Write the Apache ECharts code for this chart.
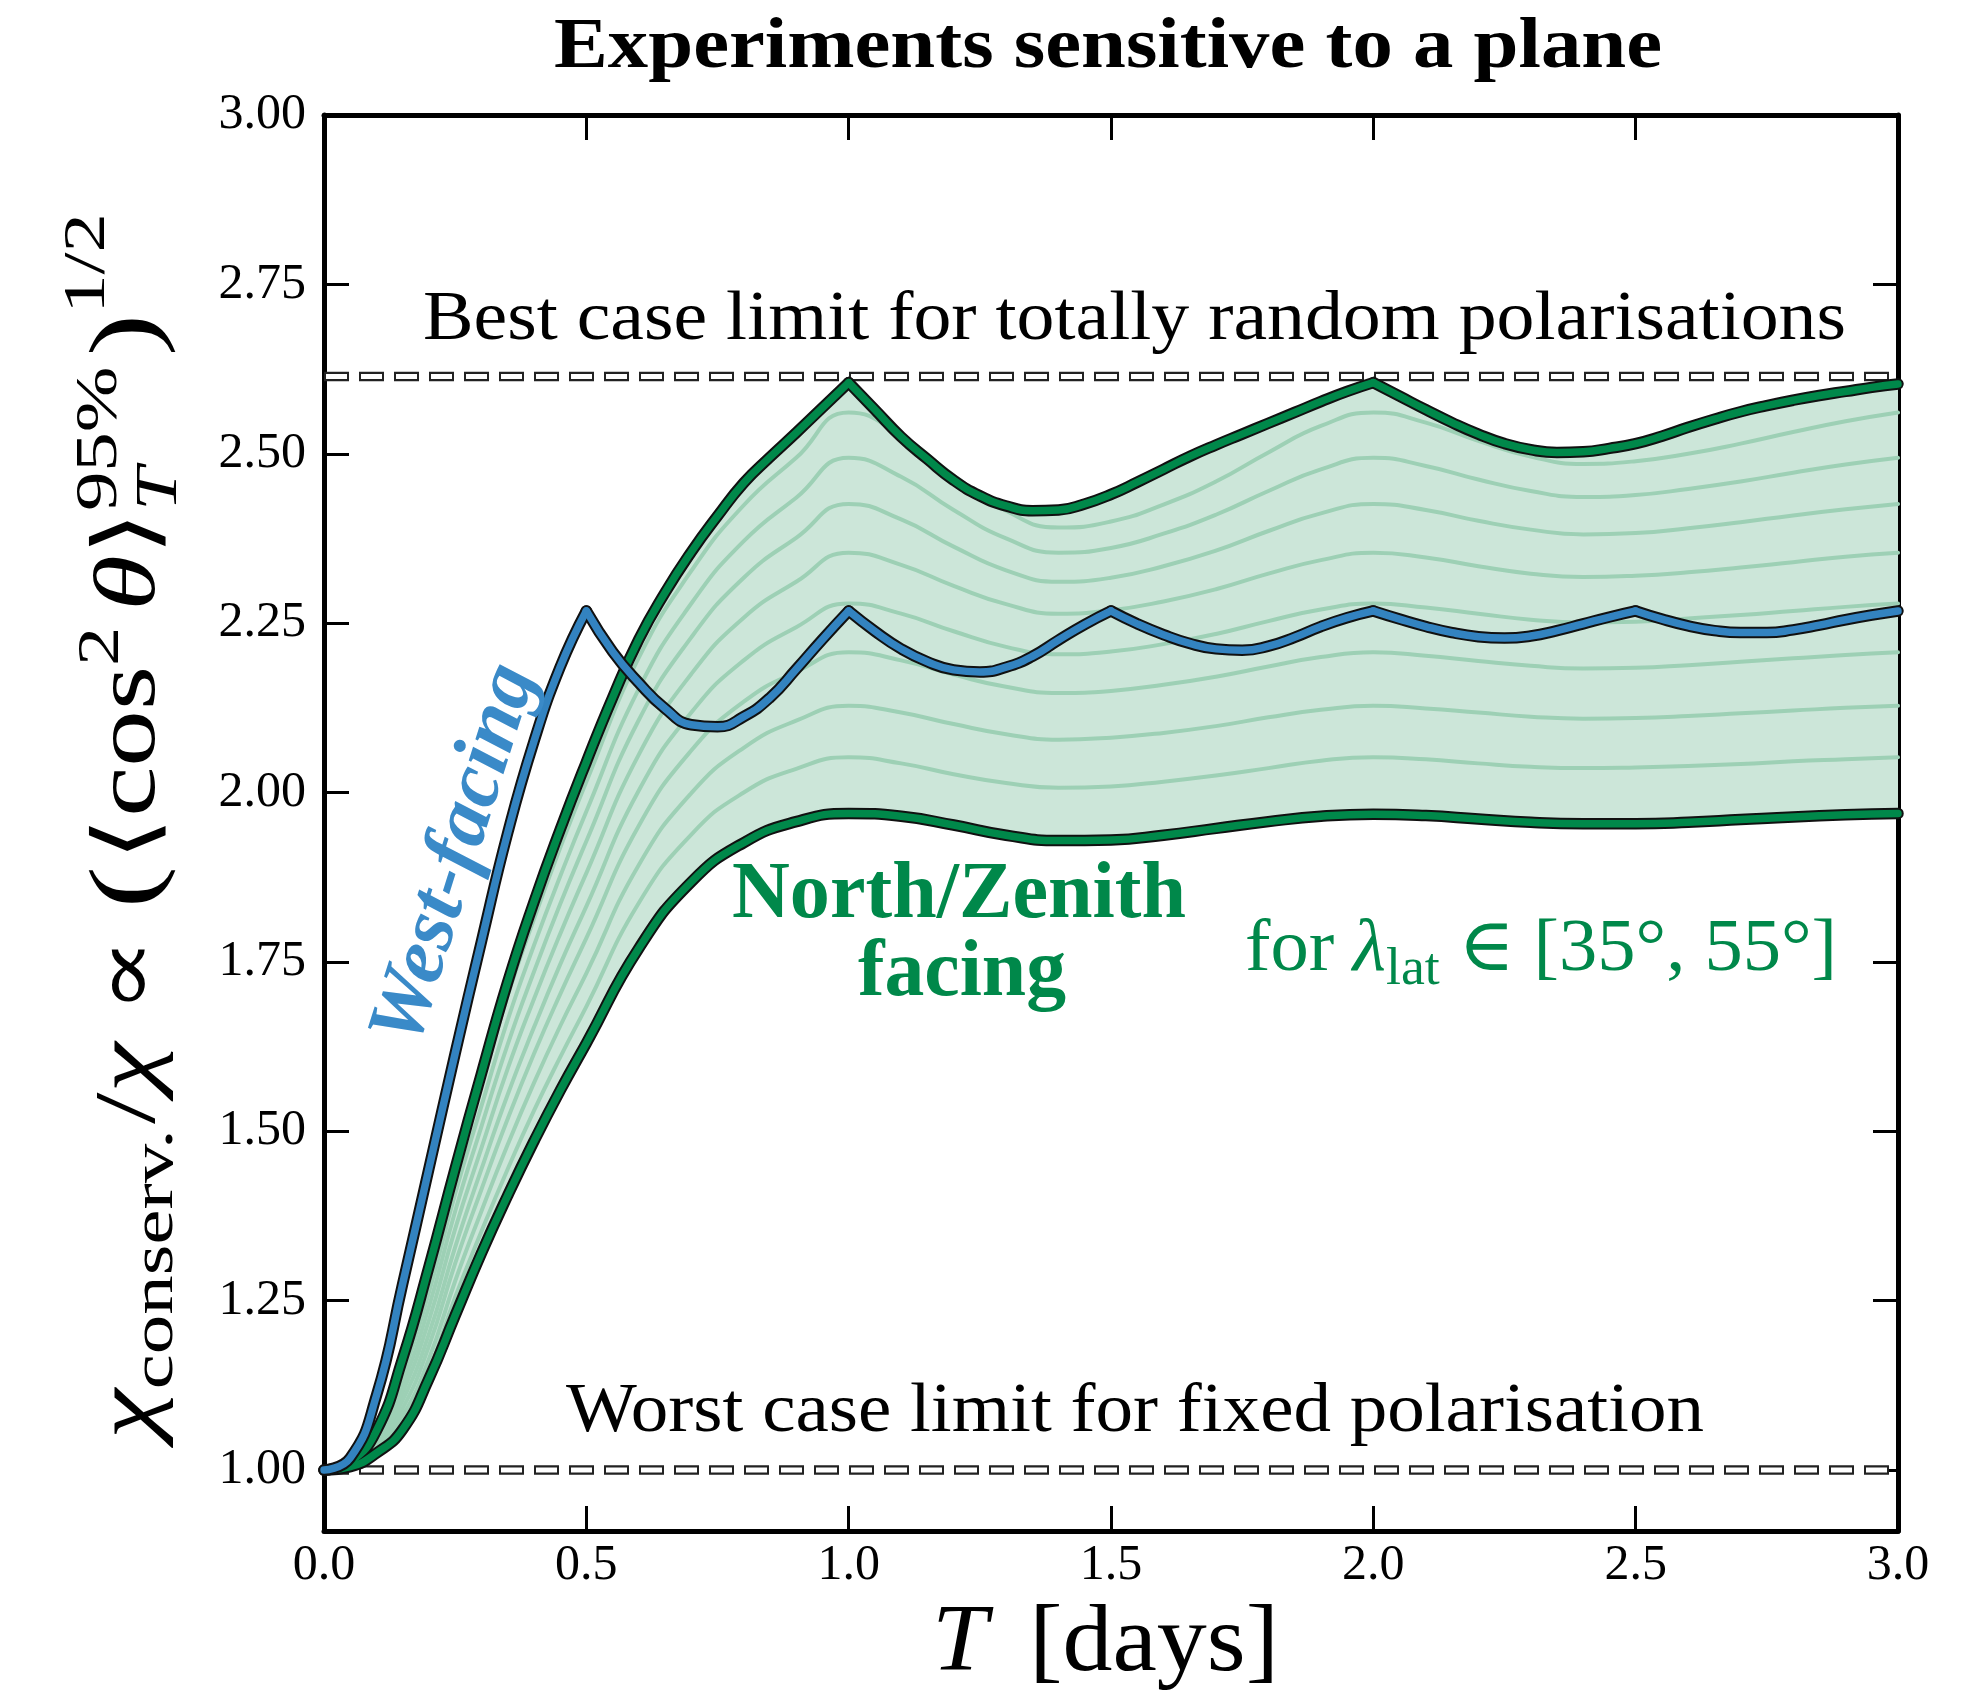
<!DOCTYPE html>
<html><head><meta charset="utf-8">
<script src="https://cdn.jsdelivr.net/npm/echarts@6.0.0/dist/echarts.min.js"></script>
<style>html,body{margin:0;padding:0;background:#fff}#chart{width:1962px;height:1699px}</style>
</head><body><div id="chart"></div>
<script>
// ---------------- DATA ----------------
const T = [0,0.05,0.1,0.15,0.2,0.25,0.3,0.35,0.4,0.45,0.5,0.6,0.7,0.8,0.9,1.0,1.1,1.2,1.3,1.4,1.5,1.6,1.7,1.8,1.9,2.0,2.1,2.2,2.3,2.4,2.5,2.6,2.7,2.8,2.9,3.0];
const TB = [0,0.05,0.1,0.15,0.2,0.25,0.3,0.35,0.4,0.45,0.5,0.55,0.6,0.65,0.7,0.75,0.8,0.85,0.9,0.95,1.0,1.05,1.1,1.15,1.2,1.25,1.3,1.35,1.4,1.45,1.5,1.55,1.6,1.65,1.7,1.75,1.8,1.85,1.9,1.95,2.0,2.05,2.1,2.15,2.2,2.25,2.3,2.35,2.4,2.45,2.5,2.55,2.6,2.65,2.7,2.75,2.8,2.85,2.9,2.95,3.0];
// outer (max-latitude) North/Zenith curve, sampled on TB
const northUpper = [1.000,1.012,1.058,1.165,1.300,1.445,1.585,1.720,1.838,1.945,2.045,2.140,2.226,2.295,2.355,2.408,2.457,2.495,2.531,2.568,2.605,2.565,2.525,2.492,2.461,2.438,2.423,2.416,2.417,2.426,2.440,2.458,2.477,2.496,2.513,2.529,2.545,2.561,2.577,2.592,2.605,2.585,2.565,2.546,2.529,2.515,2.506,2.502,2.503,2.508,2.515,2.526,2.539,2.551,2.562,2.571,2.579,2.586,2.592,2.598,2.603];
// inner curve (min-latitude) on T
const northLower = [1.000,1.005,1.025,1.060,1.135,1.228,1.320,1.405,1.485,1.560,1.630,1.770,1.868,1.926,1.957,1.969,1.965,1.952,1.937,1.929,1.930,1.937,1.947,1.957,1.965,1.968,1.966,1.961,1.956,1.954,1.954,1.956,1.960,1.964,1.967,1.969];
const lat1 = [1.000,1.011,1.054,1.154,1.283,1.434,1.568,1.700,1.813,1.918,2.016,2.199,2.327,2.424,2.494,2.561,2.527,2.468,2.416,2.391,2.400,2.425,2.459,2.502,2.541,2.561,2.546,2.519,2.496,2.485,2.489,2.500,2.515,2.532,2.548,2.561];
const lat2 = [1.000,1.010,1.050,1.140,1.262,1.408,1.537,1.664,1.774,1.876,1.972,2.153,2.279,2.371,2.435,2.494,2.466,2.417,2.375,2.354,2.361,2.382,2.410,2.445,2.477,2.494,2.482,2.462,2.445,2.436,2.439,2.448,2.459,2.472,2.484,2.494];
const lat3 = [1.000,1.010,1.047,1.127,1.241,1.382,1.507,1.628,1.735,1.835,1.928,2.107,2.229,2.317,2.376,2.426,2.403,2.363,2.328,2.311,2.317,2.334,2.357,2.386,2.412,2.426,2.417,2.401,2.388,2.381,2.383,2.390,2.399,2.409,2.418,2.426];
const lat4 = [1.000,1.009,1.043,1.115,1.221,1.356,1.475,1.592,1.695,1.791,1.881,2.056,2.175,2.258,2.311,2.354,2.336,2.305,2.278,2.264,2.269,2.282,2.300,2.323,2.343,2.354,2.347,2.334,2.323,2.318,2.320,2.325,2.332,2.340,2.348,2.354];
const lat5 = [1.000,1.008,1.039,1.103,1.201,1.329,1.444,1.554,1.653,1.746,1.832,2.003,2.118,2.195,2.244,2.279,2.264,2.238,2.215,2.204,2.208,2.219,2.234,2.253,2.270,2.279,2.273,2.264,2.255,2.251,2.252,2.257,2.262,2.268,2.274,2.279];
const lat6 = [1.000,1.007,1.035,1.091,1.183,1.305,1.414,1.518,1.614,1.702,1.785,1.951,2.062,2.134,2.178,2.207,2.195,2.174,2.156,2.147,2.150,2.159,2.171,2.186,2.200,2.207,2.202,2.194,2.187,2.183,2.184,2.188,2.193,2.198,2.203,2.207];
const lat7 = [1.000,1.006,1.032,1.080,1.164,1.279,1.382,1.480,1.571,1.655,1.733,1.893,1.999,2.066,2.106,2.128,2.118,2.101,2.086,2.078,2.081,2.088,2.098,2.111,2.122,2.128,2.124,2.118,2.112,2.109,2.110,2.113,2.117,2.121,2.125,2.128];
const lat8 = [1.000,1.006,1.029,1.070,1.147,1.255,1.352,1.444,1.530,1.609,1.684,1.837,1.938,2.000,2.035,2.052,2.043,2.027,2.014,2.007,2.009,2.016,2.025,2.036,2.047,2.052,2.049,2.043,2.038,2.036,2.037,2.039,2.042,2.046,2.049,2.052];
// West-facing, sampled on TB
const westFacing = [1.000,1.018,1.110,1.275,1.445,1.615,1.780,1.940,2.075,2.185,2.268,2.208,2.162,2.124,2.100,2.097,2.112,2.140,2.182,2.226,2.268,2.238,2.212,2.193,2.181,2.178,2.185,2.201,2.225,2.248,2.268,2.249,2.233,2.220,2.212,2.210,2.216,2.229,2.245,2.258,2.268,2.256,2.245,2.236,2.230,2.228,2.231,2.239,2.249,2.259,2.268,2.256,2.246,2.239,2.236,2.236,2.240,2.247,2.255,2.262,2.268];
const westCusps = [0.5,1.0,1.5,2.0,2.5];
const upperCusps = [1.0,2.0];
const bestCaseLimit = 2.614;
const worstCaseLimit = 1.0;
const yTicks = [1.00,1.25,1.50,1.75,2.00,2.25,2.50,2.75,3.00];
const innerLines = [lat1,lat2,lat3,lat4,lat5,lat6,lat7,lat8];

// ---------------- STYLE ----------------
const FAM = '"Liberation Serif","DejaVu Serif",serif';
const GREEN = '#00884A', BLUE = '#3383C0', FILL = '#CCE6D9', INNER = '#9DD0B5';
const TXT_GREEN = '#00884A', TXT_BLUE = '#3A8AC8';
const K = 0.3375;
const OUT_W = 11.5, COL_W = 7.5;

const mctx = document.createElement('canvas').getContext('2d');
function measure(t, font){ mctx.font = font; return mctx.measureText(t).width; }
function fontStr(p){ return (p.it?'italic ':'') + (p.b?'bold ':'') + p.s + 'px ' + FAM; }
function textEl(t, font, x, y, fill, extra){
  return Object.assign({type:'text', x, y, z:100, silent:true,
    style:{text:t, font, fill, align:'left', verticalAlign:'middle', textAlign:'left', textVerticalAlign:'middle'}}, extra||{});
}
function fitText(t, size, bold, x0, x1, baseline, fill){
  const font = (bold?'bold ':'') + size + 'px ' + FAM;
  const w = measure(t, font);
  return textEl(t, font, x0, baseline - K*size, fill, {scaleX:(x1-x0)/w});
}
function mathGroup(pieces, x, y, totalW, rotation, fill){
  let cx = 0, pending = 0; const els = [];
  pieces.forEach(p => {
    const font = fontStr(p);
    cx += (p.g||0);
    const w = measure(p.t, font);
    els.push(textEl(p.t, font, cx, (p.dy||0) - K*p.s, fill));
    if (p.stack) pending = w; else { cx += Math.max(w, pending); pending = 0; }
  });
  return {type:'group', x, y, rotation: rotation||0, scaleX: totalW/cx, z:100, children: els, silent:true};
}

// ---------------- SERIES ----------------
function pairs(xs, ys){ return xs.map((t,i)=>[t, ys[i]]); }
function splitSegments(xs, ys, cuts){
  const idx = [0].concat(cuts.map(c=>xs.indexOf(c)), [xs.length-1]);
  const segs = [];
  for (let k=0;k<idx.length-1;k++){ const seg=[]; for(let i=idx[k];i<=idx[k+1];i++) seg.push([xs[i], ys[i]]); segs.push(seg); }
  return segs;
}
function lineS(data, color, width, z, extra){
  return Object.assign({type:'line', data, smooth:0.5, symbol:'none', showSymbol:false, silent:true, z,
    lineStyle:{color, width, cap:'round', join:'round'}, emphasis:{disabled:true}}, extra||{});
}
const series = [];
series.push({type:'custom', coordinateSystem:'cartesian2d', data:[[0,1]], z:1, silent:true,
  renderItem:(params, api)=>{
    const pts=[];
    TB.forEach((t,i)=>pts.push(api.coord([t, northUpper[i]])));
    for (let i=T.length-1;i>=0;i--) pts.push(api.coord([T[i], northLower[i]]));
    return {type:'polygon', shape:{points:pts}, style:{fill:FILL}};
  }});
innerLines.forEach(arr => series.push(lineS(pairs(T, arr), INNER, 4, 2)));
// dashed limit lines (outlined dashes)
[bestCaseLimit, worstCaseLimit].forEach(v => {
  const d = [[0,v],[3,v]];
  series.push({type:'line', data:d, symbol:'none', silent:true, z:3, lineStyle:{color:'#222', width:9.5, type:[25,10], cap:'butt'}});
  series.push({type:'line', data:d, symbol:'none', silent:true, z:4, lineStyle:{color:'#fff', width:5, type:[21,14], dashOffset:-2, cap:'butt'}});
});
// North/Zenith bounds
series.push(lineS(pairs(T, northLower), '#111', OUT_W, 5));
series.push(lineS(pairs(T, northLower), GREEN, COL_W, 6));
splitSegments(TB, northUpper, upperCusps).forEach(seg => {
  series.push(lineS(seg, '#111', OUT_W, 5));
  series.push(lineS(seg, GREEN, COL_W, 6));
});
// West facing
splitSegments(TB, westFacing, westCusps).forEach(seg => {
  series.push(lineS(seg, '#111', OUT_W, 7));
  series.push(lineS(seg, BLUE, COL_W, 8));
});

// ---------------- AXES ----------------
const axisLine = {show:true, onZero:false, lineStyle:{color:'#000', width:5}};
const tick = {show:true, inside:true, length:25, lineStyle:{color:'#000', width:3}};
const lbl = {fontFamily:FAM, fontSize:50, color:'#000'};

const graphics = [
  fitText('Experiments sensitive to a plane', 72, true, 554, 1662, 72.6, '#000'),
  fitText('Best case limit for totally random polarisations', 70, false, 423, 1846, 344, '#000'),
  fitText('Worst case limit for fixed polarisation', 70, false, 566, 1704, 1436.5, '#000'),
  fitText('North/Zenith', 80, true, 732, 1186, 923, TXT_GREEN),
  fitText('facing', 80, true, 858, 1066, 1001, TXT_GREEN),
  {type:'text', x:456, y:855, rotation:72.5*Math.PI/180, z:100, silent:true,
   style:{text:'West-facing', font:'italic bold 81px '+FAM, fill:TXT_BLUE, align:'center', verticalAlign:'middle', textAlign:'center', textVerticalAlign:'middle'}},
  mathGroup([
    {t:'for', s:74},
    {t:'λ', s:74, it:1, g:18},
    {t:'lat', s:52, dy:12},
    {t:'∈', s:74, g:18},
    {t:'[35°, 55°]', s:74, g:18}
  ], 1245, 976, 592, 0, TXT_GREEN),
  mathGroup([
    {t:'T', s:96, it:1},
    {t:'[days]', s:96, g:40}
  ], 932, 1677, 347, 0, '#000'),
  mathGroup([
    {t:'χ', s:86, it:1},
    {t:'conserv.', s:60, dy:16},
    {t:'/', s:86, g:4},
    {t:'χ', s:86, it:1},
    {t:'∝', s:86, g:22},
    {t:'(', s:96, g:22, dy:2},
    {t:'⟨', s:86, g:4},
    {t:'cos', s:86},
    {t:'2', s:60, dy:-38},
    {t:'θ', s:86, it:1, g:12},
    {t:'⟩', s:86},
    {t:'95%', s:60, dy:-40, stack:1},
    {t:'T', s:60, it:1, dy:20},
    {t:')', s:96, g:8, dy:2},
    {t:'1/2', s:60, dy:-52}
  ], 160, 1439, 1226, Math.PI/2, '#000')
];

const option = {
  animation:false,
  backgroundColor:'#fff',
  grid:{left:324, right:64, top:115, bottom:168, containLabel:false, outerBoundsMode:'none'},
  xAxis:[
    {type:'value', min:0, max:3, interval:0.5, position:'bottom', axisLine, axisTick:tick,
     axisLabel:Object.assign({formatter:v=>v.toFixed(1), margin:10}, lbl), splitLine:{show:false}},
    {type:'value', min:0, max:3, interval:0.5, position:'top', axisLine, axisTick:tick,
     axisLabel:{show:false}, splitLine:{show:false}}
  ],
  yAxis:[
    {type:'value', min:0.91, max:3, position:'left', axisLine, axisTick:Object.assign({customValues:yTicks}, tick),
     axisLabel:Object.assign({customValues:yTicks, formatter:v=>v.toFixed(2), margin:18}, lbl), splitLine:{show:false}},
    {type:'value', min:0.91, max:3, position:'right', axisLine, axisTick:Object.assign({customValues:yTicks}, tick),
     axisLabel:{show:false}, splitLine:{show:false}}
  ],
  series,
  graphic: graphics
};
const chart = echarts.init(document.getElementById('chart'), null, {renderer:'canvas'});
chart.setOption(option);
</script></body></html>
